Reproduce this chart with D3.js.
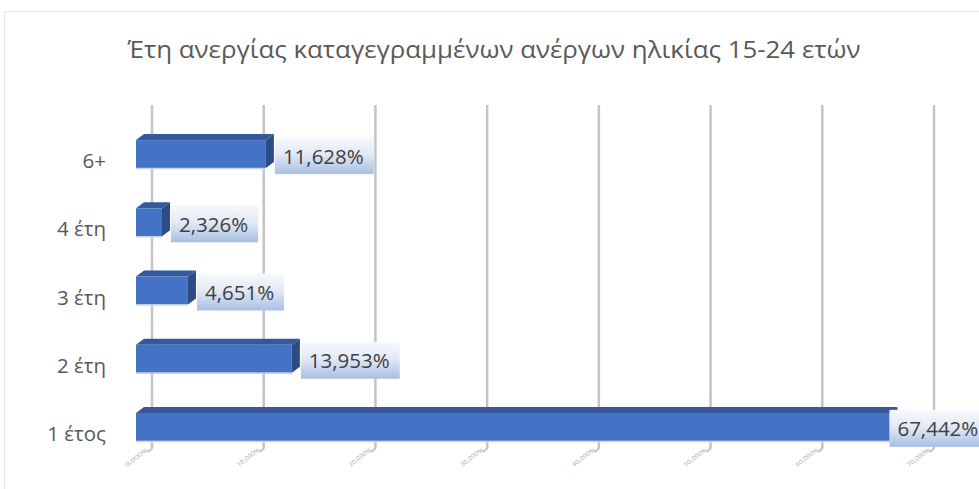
<!DOCTYPE html>
<html><head><meta charset="utf-8">
<script src="https://cdn.jsdelivr.net/npm/d3@7"></script>
<style>body{margin:0;background:#fff}svg{display:block}</style>
</head><body>
<svg id="c" width="979" height="489"></svg>
<script>
const title = "Έτη ανεργίας καταγεγραμμένων ανέργων ηλικίας 15-24 ετών";
const categories = ["6+", "4 έτη", "3 έτη", "2 έτη", "1 έτος"];
const values = [11.628, 2.326, 4.651, 13.953, 67.442];
const ticks = [0, 10, 20, 30, 40, 50, 60, 70];
const tickLabels = ["0,000%", "10,000%", "20,000%", "30,000%", "40,000%", "50,000%", "60,000%", "70,000%"];

const svg = d3.select("#c");
const font = "'Open Sans', 'Noto Sans', sans-serif";
const dx = 8, dy = -6;       // bar depth
const wallDx = 16;           // back wall offset

// chart frame
svg.append("rect").attr("x", 4.5).attr("y", 11.5).attr("width", 990).attr("height", 500)
  .attr("fill", "#fff").attr("stroke", "#e6e6e6");

const x = d3.scaleLinear().domain([0, 70]).range([136, 918]);
const y = d3.scaleBand().domain(categories).range([120, 461]).paddingInner(0.59).paddingOuter(0.295);

// gridlines on back wall + floor diagonal
const gTop = 105, gBot = 448;
const grid = svg.append("g");
ticks.forEach((t, i) => {
  const gx = x(t) + wallDx;
  grid.append("line").attr("x1", gx).attr("x2", gx).attr("y1", gTop).attr("y2", gBot)
    .attr("stroke", "#c4c4c4").attr("stroke-width", 2.5);
  grid.append("line").attr("x1", gx + 0.5).attr("y1", gBot).attr("x2", gx - 4).attr("y2", gBot + 4)
    .attr("stroke", "#c4c4c4").attr("stroke-width", 2);
  grid.append("text").attr("transform", `translate(${gx - 25},${gBot + 19}) rotate(-37)`)
    .attr("font-family", font).attr("font-size", 6).attr("fill", "#a8a8a8")
    .attr("textLength", 27).attr("lengthAdjust", "spacingAndGlyphs")
    .text(tickLabels[i]);
});

// bars
const bars = svg.append("g");
categories.forEach((c, i) => {
  const v = values[i];
  const x0 = x(0), x1 = x(v), yt = y(c), h = y.bandwidth();
  bars.append("path").attr("d", `M${x0},${yt} L${x0 + dx},${yt + dy} L${x1 + dx},${yt + dy} L${x1},${yt} Z`)
    .attr("fill", "#34589a");
  bars.append("path").attr("d", `M${x1},${yt} L${x1 + dx},${yt + dy} L${x1 + dx},${yt + dy + h} L${x1},${yt + h} Z`)
    .attr("fill", "#2c4c86");
  bars.append("rect").attr("x", x0).attr("y", yt).attr("width", x1 - x0).attr("height", h)
    .attr("fill", "#4472c4");
  bars.append("line").attr("x1", x0).attr("x2", x1).attr("y1", yt + h + 0.5).attr("y2", yt + h + 0.5)
    .attr("stroke", "#c9d3e6").attr("stroke-width", 1.5);
});

// data labels
const defs = svg.append("defs");
const grad = defs.append("linearGradient").attr("id", "lg").attr("x1", 0).attr("y1", 0).attr("x2", 0).attr("y2", 1);
grad.append("stop").attr("offset", "0%").attr("stop-color", "#f7f9fc");
grad.append("stop").attr("offset", "45%").attr("stop-color", "#e3eaf6");
grad.append("stop").attr("offset", "100%").attr("stop-color", "#a9bfe4");

const fmt = v => v.toFixed(3).replace(".", ",") + "%";
const labels = svg.append("g");
const boxH = 37;
categories.forEach((c, i) => {
  const v = values[i];
  const end = x(v);
  const cy = y(c) + y.bandwidth() / 2 + 1.5;
  const g = labels.append("g");
  const r = g.append("rect");
  const t = g.append("text").attr("font-family", font).attr("font-size", 20.5).attr("fill", "#404040")
    .text(fmt(v));
  const tw = t.node().getComputedTextLength();
  const bw = tw + 18;
  let bx = end + dx + 1;
  if (bx + bw > 990) bx = end;
  r.attr("x", bx).attr("y", cy - boxH / 2).attr("width", bw).attr("height", boxH).attr("fill", "url(#lg)");
  t.attr("x", bx + 8).attr("y", cy + 8);
});

// category labels
const yl = svg.append("g");
categories.forEach(c => {
  yl.append("text").attr("x", 106).attr("y", y(c) + y.bandwidth() / 2 + 14)
    .attr("text-anchor", "end").attr("font-family", font).attr("font-size", 20.5).attr("fill", "#595959")
    .text(c);
});

// title
svg.append("text").attr("x", 494).attr("y", 58).attr("text-anchor", "middle")
  .attr("font-family", font).attr("font-size", 23).attr("fill", "#595959")
  .attr("textLength", 733).attr("lengthAdjust", "spacingAndGlyphs")
  .text(title);
</script>
</body></html>
